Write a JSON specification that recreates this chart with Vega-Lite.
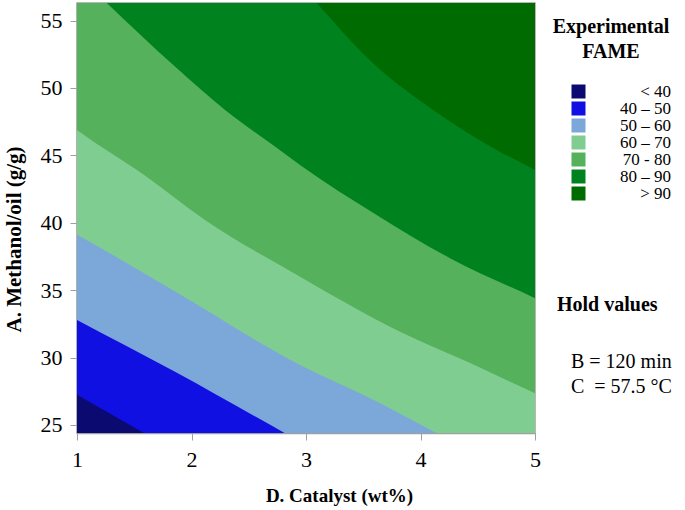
{
  "$schema": "https://vega.github.io/schema/vega-lite/v6.json",
  "width": 458,
  "height": 430,
  "autosize": {"type": "none"},
  "padding": {"left": 77, "top": 3, "right": 150, "bottom": 77},
  "background": "white",
  "config": {
    "view": {"stroke": "#a0a0a0", "strokeWidth": 1.5},
    "font": "Liberation Serif"
  },
  "datasets": {
    "bounds": [
      {"k": 0, "band": "< 40", "x": 0.8, "y": 20},
      {"k": 0, "band": "< 40", "x": 5.2, "y": 20},
      {"k": 1, "band": "40 – 50", "x": 0.8, "y": 28.2},
      {"k": 1, "band": "40 – 50", "x": 1.0, "y": 27.23},
      {"k": 1, "band": "40 – 50", "x": 1.565, "y": 24.5},
      {"k": 1, "band": "40 – 50", "x": 2.2, "y": 21.5},
      {"k": 1, "band": "40 – 50", "x": 5.2, "y": 10},
      {"k": 2, "band": "50 – 60", "x": 0.8, "y": 33.7},
      {"k": 2, "band": "50 – 60", "x": 1.0, "y": 32.79},
      {"k": 2, "band": "50 – 60", "x": 1.856, "y": 28.95},
      {"k": 2, "band": "50 – 60", "x": 2.817, "y": 24.38},
      {"k": 2, "band": "50 – 60", "x": 3.3, "y": 22.1},
      {"k": 2, "band": "50 – 60", "x": 5.2, "y": 14},
      {"k": 3, "band": "60 – 70", "x": 0.8, "y": 40.0},
      {"k": 3, "band": "60 – 70", "x": 1.0, "y": 39.1},
      {"k": 3, "band": "60 – 70", "x": 1.856, "y": 34.89},
      {"k": 3, "band": "60 – 70", "x": 2.948, "y": 29.45},
      {"k": 3, "band": "60 – 70", "x": 3.53, "y": 27.1},
      {"k": 3, "band": "60 – 70", "x": 4.17, "y": 24.26},
      {"k": 3, "band": "60 – 70", "x": 4.6, "y": 22.4},
      {"k": 3, "band": "60 – 70", "x": 5.2, "y": 20},
      {"k": 4, "band": "70 - 80", "x": 0.8, "y": 48.2},
      {"k": 4, "band": "70 - 80", "x": 1.0, "y": 46.88},
      {"k": 4, "band": "70 - 80", "x": 1.565, "y": 43.67},
      {"k": 4, "band": "70 - 80", "x": 2.118, "y": 40.21},
      {"k": 4, "band": "70 - 80", "x": 2.948, "y": 36.0},
      {"k": 4, "band": "70 - 80", "x": 3.821, "y": 31.92},
      {"k": 4, "band": "70 - 80", "x": 4.404, "y": 29.7},
      {"k": 4, "band": "70 - 80", "x": 5.0, "y": 27.35},
      {"k": 4, "band": "70 - 80", "x": 5.2, "y": 26.6},
      {"k": 5, "band": "80 – 90", "x": 0.8, "y": 60.2},
      {"k": 5, "band": "80 – 90", "x": 1.0, "y": 58.4},
      {"k": 5, "band": "80 – 90", "x": 1.259, "y": 56.31},
      {"k": 5, "band": "80 – 90", "x": 1.856, "y": 51.58},
      {"k": 5, "band": "80 – 90", "x": 2.293, "y": 48.37},
      {"k": 5, "band": "80 – 90", "x": 2.729, "y": 45.65},
      {"k": 5, "band": "80 – 90", "x": 2.948, "y": 44.29},
      {"k": 5, "band": "80 – 90", "x": 3.617, "y": 40.58},
      {"k": 5, "band": "80 – 90", "x": 4.258, "y": 37.37},
      {"k": 5, "band": "80 – 90", "x": 5.0, "y": 34.4},
      {"k": 5, "band": "80 – 90", "x": 5.2, "y": 33.6},
      {"k": 6, "band": "> 90", "x": 2.7, "y": 60.2},
      {"k": 6, "band": "> 90", "x": 3.093, "y": 56.31},
      {"k": 6, "band": "> 90", "x": 3.617, "y": 51.58},
      {"k": 6, "band": "> 90", "x": 4.109, "y": 48.37},
      {"k": 6, "band": "> 90", "x": 4.665, "y": 45.4},
      {"k": 6, "band": "> 90", "x": 5.0, "y": 43.92},
      {"k": 6, "band": "> 90", "x": 5.2, "y": 43.0}
    ],
    "hold": [
      {"hold": "B = 120 min"},
      {"hold": "C\u00a0 = 57.5 °C"}
    ]
  },
  "layer": [
    {
      "data": {"name": "bounds"},
      "encoding": {
        "x": {
          "field": "x", "type": "quantitative",
          "scale": {"domain": [1, 5], "nice": false, "zero": false},
          "axis": {
            "values": [1, 2, 3, 4, 5], "format": "d", "grid": false,
            "title": "D. Catalyst (wt%)",
            "titleFont": "Liberation Serif", "titleFontSize": 19, "titleFontWeight": "bold", "titleColor": "black",
            "titleX": 262, "titleY": 68, "titleBaseline": "alphabetic", "titleAlign": "center",
            "labelFont": "Liberation Serif", "labelFontSize": 22, "labelColor": "black", "labelPadding": 9, "labelFlush": false,
            "tickSize": 7, "tickColor": "#a0a0a0", "domainColor": "#a0a0a0", "domainWidth": 1.5
          }
        },
        "y": {
          "field": "y", "type": "quantitative",
          "scale": {"domain": [24.4, 56.3], "nice": false, "zero": false},
          "axis": {
            "values": [25, 30, 35, 40, 45, 50, 55], "format": "d", "grid": false,
            "title": "A. Methanol/oil (g/g)",
            "titleFont": "Liberation Serif", "titleFontSize": 21, "titleFontWeight": "bold", "titleColor": "black",
            "titleX": -63, "titleY": 236, "titleBaseline": "middle", "titleAlign": "center",
            "labelFont": "Liberation Serif", "labelFontSize": 22, "labelColor": "black", "labelPadding": 8, "labelFlush": false,
            "tickSize": 7, "tickColor": "#a0a0a0", "domainColor": "#a0a0a0", "domainWidth": 1.5
          }
        },
        "y2": {"datum": 62},
        "color": {
          "field": "band", "type": "nominal",
          "scale": {
            "domain": ["< 40", "40 – 50", "50 – 60", "60 – 70", "70 - 80", "80 – 90", "> 90"],
            "range": ["#0b0a70", "#1010e2", "#7ba7d9", "#80cd91", "#55b15b", "#00821f", "#006b00"]
          },
          "legend": {
            "orient": "none", "legendX": 473, "legendY": 14, "padding": 0,
            "title": ["Experimental", "FAME"],
            "titleFont": "Liberation Serif", "titleFontSize": 20, "titleFontWeight": "bold", "titleColor": "black",
            "titleAlign": "center", "titleAnchor": "middle", "titleLineHeight": 25, "titlePadding": 21,
            "labelFont": "Liberation Serif", "labelFontSize": 17, "labelColor": "black",
            "labelAlign": "right", "labelOffset": 84, "labelLimit": 200,
            "symbolType": "square", "symbolSize": 196, "symbolOffset": 20, "symbolStrokeWidth": 0, "symbolOpacity": 1,
            "rowPadding": -5
          }
        }
      },
      "layer": [
        {"transform": [{"filter": "datum.k == 0"}], "mark": {"type": "area", "clip": true, "interpolate": "monotone"}},
        {"transform": [{"filter": "datum.k == 1"}], "mark": {"type": "area", "clip": true, "interpolate": "monotone"}},
        {"transform": [{"filter": "datum.k == 2"}], "mark": {"type": "area", "clip": true, "interpolate": "monotone"}},
        {"transform": [{"filter": "datum.k == 3"}], "mark": {"type": "area", "clip": true, "interpolate": "monotone"}},
        {"transform": [{"filter": "datum.k == 4"}], "mark": {"type": "area", "clip": true, "interpolate": "monotone"}},
        {"transform": [{"filter": "datum.k == 5"}], "mark": {"type": "area", "clip": true, "interpolate": "monotone"}},
        {"transform": [{"filter": "datum.k == 6"}], "mark": {"type": "area", "clip": true, "interpolate": "monotone"}}
      ]
    },
    {
      "data": {"name": "hold"},
      "mark": {"type": "point", "opacity": 0},
      "encoding": {
        "shape": {
          "field": "hold", "type": "nominal",
          "scale": {"domain": ["B = 120 min", "C\u00a0 = 57.5 °C"], "range": ["square", "square"]},
          "legend": {
            "orient": "none", "legendX": 480, "legendY": 292, "padding": 0,
            "title": "Hold values",
            "titleFont": "Liberation Serif", "titleFontSize": 20, "titleFontWeight": "bold", "titleColor": "black",
            "titlePadding": 37,
            "labelFont": "Liberation Serif", "labelFontSize": 20, "labelColor": "black", "labelOffset": -6, "labelLimit": 200,
            "symbolSize": 1, "symbolOpacity": 0, "symbolStrokeWidth": 0,
            "rowPadding": 5
          }
        }
      }
    }
  ]
}
